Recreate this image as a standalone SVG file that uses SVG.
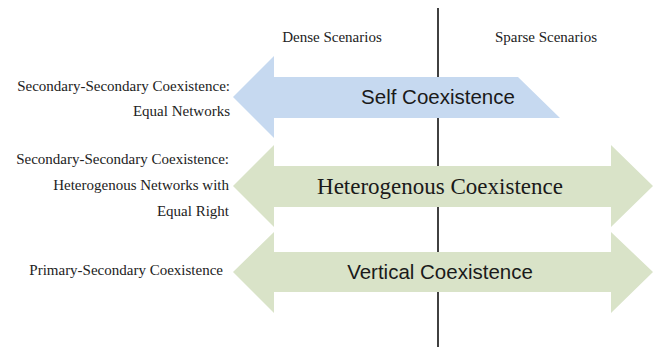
<svg xmlns="http://www.w3.org/2000/svg" width="664" height="347" viewBox="0 0 664 347">
<style>
.lbl{font-family:"Liberation Serif","Times New Roman",serif;font-size:15px;fill:#222}
.sans{font-family:"Liberation Sans",Arial,sans-serif;font-size:20.5px;fill:#1a1a1a}
.serif{font-family:"Liberation Serif","Times New Roman",serif;font-size:23px;fill:#1a1a1a}
.blue{fill:#c6d9f0}
.green{fill:#d9e3c8}
</style>
<rect width="664" height="347" fill="#fff"/>
<g id="divider">
<line x1="438" y1="8" x2="438" y2="347" stroke="#111" stroke-width="1.6"/>
</g>
<g id="headers">
<text class="lbl" x="332" y="42" text-anchor="middle">Dense Scenarios</text>
<text class="lbl" x="546" y="42" text-anchor="middle">Sparse Scenarios</text>
</g>
<g id="self">
<polygon class="blue" points="233,97 274,56 274,77 518,77 560,118 274,118 274,138"/>
<text class="sans" x="438" y="104" text-anchor="middle">Self Coexistence</text>
</g>
<g id="heterogenous">
<polygon class="green" points="233,186 274,145 274,166 611,166 611,145 653,186 611,227 611,207 274,207 274,227"/>
<text class="serif" x="440" y="194" text-anchor="middle">Heterogenous Coexistence</text>
</g>
<g id="vertical">
<polygon class="green" points="233,272 274,232 274,252 611,252 611,232 653,272 611,313 611,292 274,292 274,313"/>
<text class="sans" x="440" y="279" text-anchor="middle">Vertical Coexistence</text>
</g>
<g id="labels">
<text class="lbl" x="230" y="91" text-anchor="end">Secondary-Secondary Coexistence:</text>
<text class="lbl" x="230" y="116" text-anchor="end">Equal Networks</text>
<text class="lbl" x="229" y="164" text-anchor="end">Secondary-Secondary Coexistence:</text>
<text class="lbl" x="229" y="190" text-anchor="end">Heterogenous Networks with</text>
<text class="lbl" x="229" y="216" text-anchor="end">Equal Right</text>
<text class="lbl" x="223" y="275" text-anchor="end">Primary-Secondary Coexistence</text>
</g>
</svg>
